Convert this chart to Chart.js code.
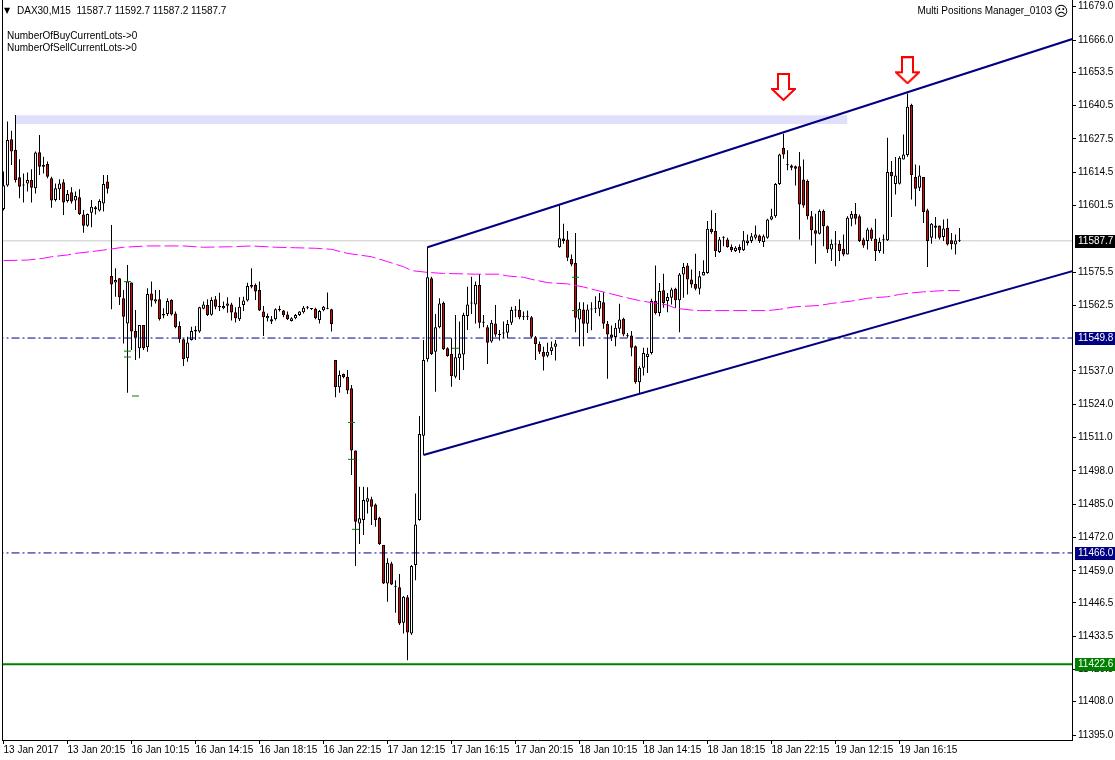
<!DOCTYPE html>
<html>
<head>
<meta charset="utf-8">
<script src="https://cdn.jsdelivr.net/npm/chart.js@4/dist/chart.umd.min.js"></script>
<style>
body{margin:0;background:#fff;}
#wrap{position:relative;width:1115px;height:760px;overflow:hidden;}
canvas{position:absolute;left:0;top:0;}
.t{position:absolute;font-family:'Liberation Sans',sans-serif;font-size:10px;color:#000;white-space:pre;line-height:12px;}
</style>
</head>
<body>
<div id="wrap">
<canvas id="c" width="1115" height="760"></canvas>
<div class="t" style="left:4px;top:5px;font-family:'DejaVu Sans';font-size:8px;">▼</div>
<div class="t" style="left:17px;top:5px;">DAX30,M15  11587.7 11592.7 11587.2 11587.7</div>
<div class="t" style="left:7px;top:30px;">NumberOfBuyCurrentLots-&gt;0</div>
<div class="t" style="left:7px;top:42px;">NumberOfSellCurrentLots-&gt;0</div>
<div class="t" style="right:63px;top:5px;">Multi Positions Manager_0103</div>
<div class="t" style="left:1054px;top:4px;font-family:'DejaVu Sans';font-size:14px;line-height:14px;">☹</div>
</div>
<script>
// ---- data (M15 bars, index 0 = 13 Jan 2017 16:15) ----
const opens = [11600.1,11609.3,11627.3,11623.1,11612.5,11609.3,11610.1,11611.4,11608.2,11622.2,11617.3,11617.7,11612.1,11603.6,11607.8,11610.5,11603.2,11606.6,11603.4,11604.7,11598.0,11593.6,11598.7,11600.8,11599.5,11602.3,11610.8,
11574.0,11571.5,11573.1,11565.3,11555.5,11571.5,11552.5,11545.8,11554.9,11546.2,11567.2,11564.0,11564.9,11558.6,11559.2,11564.6,11559.4,11554.5,11549.3,11541.9,11549.0,11552.3,11552.3,11561.2,11562.7,11558.9,11564.9,11562.3,11561.4,11562.4,11562.9,11559.9,11557.1,11562.7,11564.4,11570.5,11570.5,11568.5,11560.1,11557.5,11557.1,11557.1,11561.0,11560.5,11559.0,11556.4,11557.5,11558.8,11559.9,11561.6,11561.1,11561.2,11556.8,11560.6,11561.2,11561.0,
11541.2,11530.6,11535.8,11534.7,11530.2,11505.9,11477.5,11478.8,11486.0,11486.9,11484.9,11479.7,11469.1,11454.1,11461.9,11453.2,11452.6,11438.8,11448.7,11434.6,11461.3,11478.8,11511.7,11541.5,11573.1,11544.5,11554.0,11563.6,11545.8,11543.6,11534.7,11541.9,11543.4,11558.4,11563.3,11562.9,11570.5,11555.8,11554.0,11548.4,11555.5,11551.0,11551.6,11551.9,11555.8,11560.5,11560.7,11557.9,11558.1,11557.9,11550.1,11547.5,11544.5,11542.9,11544.7,11546.4,
11585.2,11588.6,11588.2,11580.7,11579.1,11557.0,11560.9,11555.4,11560.9,11561.2,11561.2,11563.8,11555.4,11551.2,11550.2,11553.4,11557.3,11550.5,11550.8,11546.6,11532.6,11538.2,11542.4,11544.0,11564.2,11559.6,11568.4,11564.2,11565.5,11569.0,11564.5,11574.6,11578.1,11572.6,11571.0,11569.0,11574.2,11575.2,11592.4,11591.5,11583.3,11588.9,11588.2,11585.3,11583.7,11585.3,11584.0,11586.9,11587.6,11588.9,11589.8,11587.2,11588.9,11596.0,11597.3,11609.9,11624.0,11617.2,11617.1,11616.8,11616.8,11611.6,11611.0,11597.3,11591.8,11590.5,11599.3,11593.4,11584.3,11586.3,11586.6,11584.6,11582.4,11596.3,11598.2,11597.3,11588.2,11587.6,11592.1,11588.5,11583.7,11587.9,11587.9,11614.5,11609.9,11610.0,11619.4,11621.2,11640.7,11612.6,11608.4,11612.6,11599.6,11588.9,11593.7,11593.7,11589.2,11592.8,11587.9,11586.3,11587.7];
const highs = [11614.7,11634.2,11630.6,11636.8,11619.5,11614.0,11614.3,11615.6,11622.5,11629.0,11620.5,11618.6,11612.7,11610.1,11611.7,11611.7,11607.5,11608.6,11606.9,11607.8,11599.7,11598.4,11603.6,11601.3,11603.9,11613.4,11613.4,
11593.9,11577.0,11573.1,11568.5,11578.3,11571.5,11560.7,11554.9,11554.9,11569.2,11571.8,11568.5,11568.5,11561.4,11565.3,11564.9,11560.1,11556.2,11549.7,11550.3,11554.2,11554.5,11562.0,11564.0,11564.9,11565.7,11566.2,11567.5,11564.0,11565.7,11563.6,11561.8,11565.7,11565.9,11571.4,11577.0,11571.1,11571.8,11562.3,11559.4,11558.4,11561.4,11562.4,11560.7,11560.1,11557.9,11559.2,11560.2,11562.3,11562.3,11561.4,11561.6,11560.7,11562.3,11567.6,11561.2,
11541.2,11537.1,11536.0,11537.3,11531.5,11505.9,11491.8,11491.8,11491.6,11487.9,11485.3,11480.1,11469.1,11463.9,11462.6,11455.4,11457.8,11449.2,11449.6,11461.3,11489.2,11519.4,11549.0,11585.4,11573.7,11559.2,11565.3,11564.0,11546.2,11549.7,11558.8,11556.2,11559.7,11569.8,11573.7,11571.8,11574.8,11558.8,11554.9,11556.8,11562.7,11552.9,11556.2,11556.8,11562.0,11562.3,11564.9,11560.1,11560.5,11558.4,11550.6,11548.4,11546.4,11548.0,11548.4,11549.0,
11601.7,11594.4,11591.5,11582.4,11590.8,11563.8,11563.8,11562.9,11563.8,11566.1,11567.4,11567.7,11556.4,11554.7,11555.7,11563.2,11557.7,11551.8,11552.5,11546.9,11538.8,11546.0,11546.0,11565.1,11578.1,11571.3,11574.9,11567.4,11569.4,11569.4,11575.2,11579.1,11579.1,11576.5,11582.7,11575.9,11580.1,11595.4,11599.6,11598.6,11589.2,11589.5,11588.9,11586.3,11585.6,11586.3,11591.5,11590.2,11590.8,11593.7,11590.2,11590.2,11596.3,11600.2,11610.3,11621.7,11629.5,11623.0,11617.5,11617.1,11622.3,11619.4,11611.6,11599.3,11598.3,11599.9,11599.9,11593.7,11588.2,11591.5,11587.9,11590.2,11597.3,11599.3,11602.5,11598.0,11588.9,11592.8,11592.8,11596.3,11588.9,11590.2,11627.9,11618.8,11620.4,11620.7,11629.2,11645.2,11641.2,11617.5,11617.1,11612.6,11600.2,11594.7,11597.0,11593.7,11596.0,11596.3,11590.8,11590.2,11592.7];
const lows = [11599.5,11608.8,11617.3,11610.4,11604.3,11602.6,11606.9,11602.6,11606.2,11613.4,11614.0,11612.1,11600.6,11603.0,11603.6,11597.8,11602.6,11602.3,11599.7,11597.8,11590.9,11593.2,11593.0,11598.0,11599.1,11599.1,11606.2,
11561.0,11565.9,11562.7,11547.7,11528.5,11545.1,11541.2,11541.9,11545.1,11544.5,11562.0,11563.3,11556.6,11557.5,11558.4,11558.6,11553.6,11548.0,11538.9,11540.6,11548.8,11549.0,11551.9,11561.0,11558.4,11558.5,11561.0,11560.3,11561.0,11559.7,11556.6,11555.9,11556.4,11560.3,11564.0,11569.2,11564.6,11560.3,11550.6,11556.2,11555.3,11556.6,11560.1,11557.9,11556.8,11556.2,11557.1,11558.4,11559.4,11561.0,11560.7,11557.1,11555.5,11560.2,11561.0,11552.3,
11526.7,11528.5,11534.1,11528.0,11496.4,11460.9,11469.5,11473.0,11481.4,11476.9,11476.2,11469.1,11453.9,11447.0,11453.5,11442.7,11437.9,11434.6,11424.2,11434.0,11455.4,11478.6,11504.2,11540.6,11543.2,11528.9,11553.6,11545.1,11542.5,11530.8,11534.1,11533.4,11537.3,11552.9,11559.2,11555.5,11553.6,11554.0,11539.7,11548.0,11550.3,11548.8,11549.7,11549.7,11554.9,11557.9,11557.1,11556.8,11556.8,11549.7,11541.2,11543.6,11537.1,11542.3,11543.2,11541.0,
11585.0,11586.6,11579.8,11577.8,11552.1,11546.6,11546.6,11551.8,11552.8,11559.6,11558.3,11553.4,11533.9,11548.6,11546.6,11551.8,11550.5,11549.9,11542.7,11532.0,11528.1,11535.2,11536.2,11543.4,11559.0,11558.3,11561.6,11559.9,11562.9,11561.6,11552.1,11565.5,11566.8,11569.4,11568.4,11566.8,11574.2,11574.9,11590.5,11581.4,11583.0,11585.6,11585.0,11583.3,11583.3,11583.0,11583.7,11585.9,11586.9,11588.2,11586.9,11585.3,11588.5,11595.7,11596.7,11609.5,11619.7,11615.2,11615.2,11609.3,11588.2,11600.6,11596.0,11585.9,11578.8,11590.2,11585.6,11583.0,11579.8,11577.8,11579.8,11581.7,11582.4,11593.4,11594.1,11587.2,11585.0,11584.3,11587.6,11579.8,11583.0,11582.7,11587.6,11597.0,11605.8,11609.7,11619.4,11620.5,11603.8,11601.2,11607.1,11594.7,11577.5,11586.6,11588.5,11588.2,11587.6,11585.9,11584.3,11582.4,11587.2];
const closes = [11609.4,11627.0,11622.5,11611.4,11608.8,11609.3,11611.4,11608.4,11622.1,11616.6,11616.6,11612.7,11603.4,11608.2,11610.1,11602.6,11606.0,11603.0,11605.2,11598.2,11593.6,11598.2,11601.0,11600.0,11603.2,11609.9,11608.0,
11570.7,11572.4,11565.7,11558.1,11571.8,11552.3,11549.9,11554.9,11545.8,11567.0,11564.4,11564.9,11557.2,11559.2,11564.2,11559.0,11554.0,11549.3,11541.5,11548.1,11552.5,11552.9,11561.8,11562.9,11558.8,11564.6,11562.0,11561.8,11562.3,11563.3,11559.8,11557.5,11562.0,11564.4,11570.1,11569.8,11567.9,11560.5,11557.9,11558.4,11556.2,11561.0,11560.7,11558.8,11557.1,11557.5,11558.8,11560.1,11561.6,11561.6,11561.1,11557.5,11560.3,11562.0,11561.2,11555.3,
11530.6,11535.4,11534.5,11529.3,11505.9,11478.2,11479.5,11486.6,11487.3,11484.0,11478.8,11469.5,11454.1,11462.2,11453.7,11452.8,11438.5,11448.9,11435.0,11460.9,11477.1,11512.4,11541.2,11573.5,11543.6,11554.0,11563.3,11545.4,11542.8,11535.0,11542.3,11543.8,11558.8,11562.9,11563.3,11570.5,11555.8,11555.8,11548.0,11555.8,11551.2,11551.0,11551.6,11555.3,11560.7,11560.5,11557.9,11557.9,11558.1,11550.3,11547.5,11544.5,11542.5,11544.5,11546.2,11547.7,
11588.7,11587.6,11581.1,11578.5,11557.7,11561.2,11555.4,11560.9,11560.9,11561.2,11564.2,11555.4,11551.2,11549.9,11553.8,11557.0,11551.2,11550.5,11546.0,11532.6,11538.2,11544.0,11543.7,11564.2,11559.6,11568.1,11563.5,11565.8,11568.7,11564.5,11574.6,11577.5,11572.6,11570.7,11569.0,11573.9,11575.5,11592.4,11591.1,11583.7,11588.2,11588.9,11585.3,11584.0,11585.0,11584.0,11587.9,11587.8,11589.5,11590.2,11587.6,11589.5,11596.0,11597.3,11609.9,11621.4,11621.4,11617.2,11616.2,11615.8,11601.9,11601.5,11597.3,11591.8,11590.5,11599.3,11593.4,11584.3,11586.6,11586.3,11583.7,11582.4,11596.7,11598.2,11596.3,11587.6,11585.9,11592.1,11588.5,11583.7,11587.3,11587.9,11614.5,11612.9,11613.2,11620.1,11621.4,11640.0,11613.4,11608.0,11613.2,11598.9,11587.6,11594.4,11592.8,11588.9,11592.5,11586.3,11586.5,11587.8,11587.7];

// moving average (magenta), sampled at bar indices
const maIdx = [0,6,10,12,16,18,22,25,30,36,45,50,57,62,68,73,78,82,86,92,96,100,102,106,110,118,124,126,130,132,136,141,145,148,152,155,159,162,166,168,172,174,191,194,198,204,207,212,216,221,224,227,230,235,239];
const maVal = [11580.0,11580.2,11580.9,11581.5,11582.2,11582.8,11583.5,11584.1,11585.2,11585.7,11585.7,11585.2,11585.4,11585.7,11585.2,11585.0,11584.8,11584.4,11582.8,11581.5,11579.6,11577.6,11576.1,11575.4,11575.0,11574.7,11574.7,11574.0,11573.5,11572.7,11571.4,11570.9,11569.7,11568.5,11567.0,11565.8,11564.4,11563.6,11562.7,11561.4,11560.7,11560.5,11560.5,11561.0,11562.0,11562.5,11563.3,11564.2,11565.3,11565.9,11566.8,11567.4,11567.8,11568.3,11568.3];

// x-axis time labels
const timeTickIdx = [0,16,32,48,64,80,96,112,128,144,160,176,192,208,224];
const timeTickText = ['13 Jan 2017','13 Jan 20:15','16 Jan 10:15','16 Jan 14:15','16 Jan 18:15','16 Jan 22:15','17 Jan 12:15','17 Jan 16:15','17 Jan 20:15','18 Jan 10:15','18 Jan 14:15','18 Jan 18:15','18 Jan 22:15','19 Jan 12:15','19 Jan 16:15'];

// price axis labels
const priceTicks = [11679.0,11666.0,11653.5,11640.5,11627.5,11614.5,11601.5,11575.5,11562.5,11537.0,11524.0,11511.0,11498.0,11485.0,11472.0,11459.0,11446.5,11433.5,11420.5,11408.0,11395.0];

// horizontal levels
const bidLevel = 11587.7;
const dashLevels = [11549.8, 11466.0];
const greenLevel = 11422.6;

// trend channel anchors [barIndex, price]
const upperChannel = [[106, 11585.2], [268, 11666.8]];
const lowerChannel = [[105, 11504.2], [268, 11576.2]];

// rectangle zone [fromIdx, toIdx, lowPrice, highPrice]
const zoneRect = [3, 211, 11633.3, 11636.7];

// green trade marks [barIndex, price]
const greenMarks = [[31,11571.8],[31,11544.7],[31,11542.4],[33,11527.2],[87,11516.9],[87,11502.5],[88,11475.2],[113,11545.8],[143,11573.5],[143,11560.5]];

// red down-arrow signals [barIndex, price]
const arrowMarks = [[195, 11647.7], [226, 11654.2]];

// ---- build chart ----
const FONT = "'Liberation Sans',sans-serif";
const NAVY = '#000080';

function makeArrow() {
  const c = document.createElement('canvas');
  c.width = 25; c.height = 28;
  const g = c.getContext('2d');
  g.beginPath();
  g.moveTo(7,1); g.lineTo(18,1); g.lineTo(18,16); g.lineTo(24,16); g.lineTo(12.5,27); g.lineTo(1,16); g.lineTo(7,16); g.closePath();
  g.fillStyle = '#fff'; g.fill();
  g.strokeStyle = '#ff0000'; g.lineWidth = 2; g.stroke();
  return c;
}
const arrowImg = makeArrow();

const idx = opens.map((_, i) => i);
const bodyColors = idx.map(i => closes[i] < opens[i] ? '#e80000' : '#ffffff');

const hline = (v) => [{x: -2, y: v}, {x: 270, y: v}];

const datasets = [
  { type:'line', label:'zoneTop', data:[{x:zoneRect[0],y:zoneRect[3]},{x:zoneRect[1],y:zoneRect[3]}], borderWidth:0, pointRadius:0, order:20, fill:false },
  { type:'line', label:'zoneBottom', data:[{x:zoneRect[0],y:zoneRect[2]},{x:zoneRect[1],y:zoneRect[2]}], borderWidth:0, pointRadius:0, order:19, fill:'-1', backgroundColor:'#e0e0fc' },
  { type:'line', label:'bid', data:hline(bidLevel), borderColor:'#c8c8c8', borderWidth:1, pointRadius:0, order:18 },
  { type:'bar', label:'wicks', data: idx.map(i => ({x:i, y:[lows[i], highs[i]]})), backgroundColor:'#000', borderWidth:0, barThickness:1, grouped:false, inflateAmount:0, minBarLength:1, order:12 },
  { type:'bar', label:'bodies', data: idx.map(i => ({x:i, y:[opens[i], closes[i]]})), backgroundColor: bodyColors, borderColor:'#000', borderWidth:1, borderSkipped:false, barThickness:3, grouped:false, inflateAmount:0, minBarLength:1, order:11 },
  { type:'line', label:'MA', data: maIdx.map((x,k) => ({x, y:maVal[k]})), borderColor:'#ff00ff', borderWidth:1, borderDash:[14,4], pointRadius:0, order:9 },
  { type:'line', label:'marks', data: greenMarks.map(m => ({x:m[0], y:m[1]})), showLine:false, pointStyle:'line', pointRadius:3.5, pointBorderColor:'#008000', pointBorderWidth:1, borderColor:'#008000', order:8 },
  ...dashLevels.map(v => ({ type:'line', label:'lvl'+v, data:hline(v), borderColor:NAVY, borderWidth:1, borderDash:[8,3,2,3], pointRadius:0, order:6 })),
  { type:'line', label:'green', data:hline(greenLevel), borderColor:'#007f00', borderWidth:2, pointRadius:0, order:6 },
  { type:'line', label:'upper', data: upperChannel.map(p => ({x:p[0], y:p[1]})), borderColor:NAVY, borderWidth:2, pointRadius:0, order:4 },
  { type:'line', label:'lower', data: lowerChannel.map(p => ({x:p[0], y:p[1]})), borderColor:NAVY, borderWidth:2, pointRadius:0, order:4 },
  { type:'line', label:'arrows', data: arrowMarks.map(a => ({x:a[0], y:a[1]})), showLine:false, pointStyle:arrowImg, pointRadius:12, order:1, clip:false }
];

const priceBoxes = [
  {v: bidLevel, bg:'#000000'},
  {v: dashLevels[0], bg: NAVY},
  {v: dashLevels[1], bg: NAVY},
  {v: greenLevel, bg:'#008000'}
];

const overlay = {
  id:'overlay',
  afterDraw(chart) {
    const ctx = chart.ctx, ys = chart.scales.y, a = chart.chartArea;
    ctx.save();
    ctx.strokeStyle = '#000'; ctx.lineWidth = 1;
    ctx.beginPath(); ctx.moveTo(Math.round(a.left)+0.5, 0); ctx.lineTo(Math.round(a.left)+0.5, a.bottom); ctx.stroke();
    ctx.font = '10px ' + FONT;
    ctx.textBaseline = 'middle'; ctx.textAlign = 'left';
    priceBoxes.forEach(b => {
      const py = Math.round(ys.getPixelForValue(b.v));
      ctx.fillStyle = b.bg;
      ctx.fillRect(Math.round(a.right) + 3, py - 6, 40, 13);
      ctx.fillStyle = '#fff';
      ctx.fillText(b.v.toFixed(1), Math.round(a.right) + 6, py + 0.5);
    });
    ctx.restore();
  }
};

new Chart(document.getElementById('c'), {
  type: 'bar',
  data: { datasets },
  options: {
    responsive: false,
    animation: false,
    devicePixelRatio: 1,
    events: [],
    layout: { autoPadding: false, padding: { left: 2, top: 0, right: 0, bottom: 0 } },
    plugins: { legend: {display:false}, tooltip: {enabled:false}, title:{display:false} },
    scales: {
      x: {
        type: 'linear', position: 'bottom', min: -0.375, max: 267.125, offset: false, beginAtZero:false,
        grid: { display: true, drawOnChartArea: false, drawTicks: true, tickLength: 4, color: '#000', offset:false },
        border: { display: true, color: '#000', width: 1 },
        ticks: { autoSkip:false, maxRotation:0, minRotation:0, align:'start', padding:0, color:'#000', font:{family:FONT, size:10},
          callback: (v) => { const k = timeTickIdx.indexOf(v); return k >= 0 ? timeTickText[k] : ''; } },
        afterBuildTicks: (s) => { s.ticks = timeTickIdx.map(v => ({value: v})); },
        afterFit: (s) => { s.height = 20; s.paddingLeft = 0; s.paddingRight = 0; }
      },
      y: {
        type: 'linear', position: 'right', min: 11393.06, max: 11681.61, beginAtZero:false,
        grid: { display: true, drawOnChartArea: false, drawTicks: true, tickLength: 4, color: '#000' },
        border: { display: true, color: '#000', width: 1 },
        ticks: { autoSkip:false, padding:2, color:'#000', font:{family:FONT, size:10}, callback: (v) => Number(v).toFixed(1) },
        afterBuildTicks: (s) => { s.ticks = priceTicks.map(v => ({value: v})); },
        afterFit: (s) => { s.width = 43; s.paddingTop = 0; s.paddingBottom = 0; }
      }
    }
  },
  plugins: [overlay]
});
</script>
</body>
</html>
